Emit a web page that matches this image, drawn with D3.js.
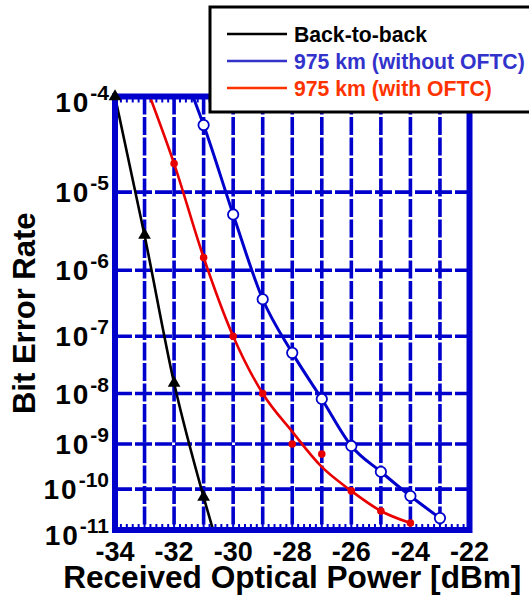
<!DOCTYPE html>
<html>
<head>
<meta charset="utf-8">
<script src="https://cdn.jsdelivr.net/npm/d3@7"></script>
<style>
  body { margin: 0; background: #fff; }
  svg { display: block; }
  text { font-family: "Liberation Sans", Arial, sans-serif; font-weight: bold; }
</style>
</head>
<body>
<svg id="chart"></svg>
<script>
// Axis ticks
var powerTicks = [-34, -32, -30, -28, -26, -24, -22];
var berTicks = [1e-4, 1e-5, 1e-6, 1e-7, 1e-8, 1e-9, 1e-10, 1e-11];
var berExponents = ["-4", "-5", "-6", "-7", "-8", "-9", "-10", "-11"];

// Back-to-back (measured points + drawn fit)
var b2bPower = [-34, -33, -32, -31];
var b2bBer = [1e-4, 2.96e-6, 1.56e-8, 6.5e-11];
var b2bFitPower = [-34, -33, -32, -31, -30.68];
var b2bFitBer = [1e-4, 2.96e-6, 1.56e-8, 6.5e-11, 1e-11];

// 975 km without OFTC
var noOftcPower = [-31, -30, -29, -28, -27, -26, -25, -24, -23];
var noOftcBer = [5.3e-5, 5.4e-6, 3.8e-7, 5.3e-8, 7.9e-9, 9.1e-10, 2.5e-10, 6.9e-11, 2.0e-11];
var noOftcFitPower = [-31.36, -31, -30, -29, -28, -27, -26, -25, -24, -23];
var noOftcFitBer = [1e-4, 5.3e-5, 5.4e-6, 3.8e-7, 5.3e-8, 7.9e-9, 9.1e-10, 2.5e-10, 6.9e-11, 2.0e-11];

// 975 km with OFTC
var oftcPower = [-32, -31, -30, -29, -28, -27, -26, -25, -24];
var oftcBer = [2.1e-5, 1.5e-6, 1.0e-7, 1.0e-8, 1.0e-9, 6.1e-10, 9.1e-11, 3.0e-11, 1.5e-11];
var oftcFitPower = [-32.82, -32, -31, -30, -29, -28, -27, -26, -25, -24];
var oftcFitBer = [1e-4, 2.1e-5, 1.5e-6, 1.0e-7, 1.0e-8, 1.8e-9, 3.2e-10, 9.1e-11, 3.0e-11, 1.5e-11];

var legendLabels = ["Back-to-back", "975 km (without OFTC)", "975 km (with OFTC)"];
var legendColors = ["#000000", "#3333cc", "#ff3300"];

var svgWidth = 529, svgHeight = 597;
var plotLeft = 115, plotRight = 469.5, plotTop = 96.5, plotBottom = 530;
var gridBlue = "#0000cc";

var svg = d3.select("#chart")
  .attr("width", svgWidth)
  .attr("height", svgHeight);

// BER axis is a Q-type scale: linear in log10(-log10(BER))
function q(b) { return Math.log10(-Math.log10(b)); }
var xScale = d3.scaleLinear().domain([-34, -22]).range([plotLeft, plotRight]);
var qScale = d3.scaleLinear().domain([q(1e-4), q(1e-11)]).range([plotTop, plotBottom]);
function yScale(b) { return qScale(q(b)); }

function zip(xs, ys) { return xs.map((v, i) => [v, ys[i]]); }

// Grid
var grid = svg.append("g");
grid.selectAll(".vgrid")
  .data(xScale.ticks(12).filter(d => d > -34 && d < -22))
  .enter().append("line")
  .attr("x1", d => xScale(d)).attr("x2", d => xScale(d))
  .attr("y1", plotTop).attr("y2", plotBottom)
  .attr("stroke", gridBlue).attr("stroke-width", 3.6)
  .attr("stroke-dasharray", "18,2.5");
grid.selectAll(".hgrid")
  .data(berTicks.slice(1, -1))
  .enter().append("line")
  .attr("x1", plotLeft).attr("x2", plotRight)
  .attr("y1", d => yScale(d)).attr("y2", d => yScale(d))
  .attr("stroke", gridBlue).attr("stroke-width", 3.6)
  .attr("stroke-dasharray", "17,3");

// minor ticks on top and bottom frame
var minor = xScale.ticks(60);
grid.selectAll(".mb").data(minor).enter().append("line")
  .attr("x1", d => xScale(d)).attr("x2", d => xScale(d))
  .attr("y1", plotBottom).attr("y2", plotBottom - 6)
  .attr("stroke", gridBlue).attr("stroke-width", 2);
grid.selectAll(".mt").data(minor).enter().append("line")
  .attr("x1", d => xScale(d)).attr("x2", d => xScale(d))
  .attr("y1", plotTop).attr("y2", plotTop + 6)
  .attr("stroke", gridBlue).attr("stroke-width", 2);

// Curves
var line = d3.line()
  .x(d => xScale(d[0]))
  .y(d => yScale(d[1]))
  .curve(d3.curveMonotoneX);

svg.append("path").datum(zip(b2bFitPower, b2bFitBer))
  .attr("d", line).attr("fill", "none")
  .attr("stroke", "#000").attr("stroke-width", 2.6);
svg.append("path").datum(zip(noOftcFitPower, noOftcFitBer))
  .attr("d", line).attr("fill", "none")
  .attr("stroke", "#0000cc").attr("stroke-width", 3);
svg.append("path").datum(zip(oftcFitPower, oftcFitBer))
  .attr("d", line).attr("fill", "none")
  .attr("stroke", "#e80000").attr("stroke-width", 2.6);

// Frame
svg.append("rect")
  .attr("x", plotLeft).attr("y", plotTop)
  .attr("width", plotRight - plotLeft).attr("height", plotBottom - plotTop)
  .attr("fill", "none").attr("stroke", gridBlue).attr("stroke-width", 6);

// Markers
svg.selectAll(".tri").data(zip(b2bPower, b2bBer)).enter().append("path")
  .attr("d", d3.symbol(d3.symbolTriangle).size(70))
  .attr("transform", d => `translate(${xScale(d[0])},${yScale(d[1])})`)
  .attr("fill", "#000");
svg.selectAll(".open").data(zip(noOftcPower, noOftcBer)).enter().append("circle")
  .attr("cx", d => xScale(d[0])).attr("cy", d => yScale(d[1]))
  .attr("r", 5.2).attr("fill", "#fff")
  .attr("stroke", "#0000cc").attr("stroke-width", 1.8);
svg.selectAll(".dot").data(zip(oftcPower, oftcBer)).enter().append("circle")
  .attr("cx", d => xScale(d[0])).attr("cy", d => yScale(d[1]))
  .attr("r", 3.8).attr("fill", "#e80000");

// X tick labels
svg.selectAll(".xlab").data(powerTicks).enter().append("text")
  .attr("x", d => xScale(d)).attr("y", 561)
  .attr("text-anchor", "middle")
  .attr("font-size", 27)
  .text(d => d);

// Y tick labels: 10 with superscript exponent
var ylab = svg.selectAll(".ylab").data(berTicks).enter().append("text")
  .attr("x", 109)
  .attr("y", (d, i) => yScale(d) + 10 + (i == 0 ? 5.5 : 0) + (i == berTicks.length - 1 ? 5 : 0))
  .attr("text-anchor", "end")
  .attr("font-size", 28);
ylab.append("tspan").attr("letter-spacing", 2).text("10");
ylab.append("tspan")
  .attr("font-size", 21).attr("dy", -12)
  .text((d, i) => berExponents[i]);

// Axis titles
svg.append("text")
  .attr("x", (plotLeft + plotRight) / 2).attr("y", 588)
  .attr("text-anchor", "middle")
  .attr("font-size", 31.6)
  .text("Received Optical Power [dBm]");
svg.append("text")
  .attr("transform", `translate(35, ${(plotTop + plotBottom) / 2}) rotate(-90)`)
  .attr("text-anchor", "middle")
  .attr("font-size", 31)
  .text("Bit Error Rate");

// Legend
var legend = svg.append("g");
legend.append("rect")
  .attr("x", 210).attr("y", 7)
  .attr("width", 330).attr("height", 105)
  .attr("fill", "#fff").attr("stroke", "#000").attr("stroke-width", 3);
var rows = legend.selectAll(".row").data(legendLabels).enter().append("g")
  .attr("transform", (d, i) => `translate(0, ${34 + i * 27})`);
rows.append("line")
  .attr("x1", 227).attr("x2", 287)
  .attr("stroke", (d, i) => legendColors[i]).attr("stroke-width", 2.6);
rows.append("text")
  .attr("x", 294).attr("y", 8)
  .attr("font-size", 21.2)
  .attr("fill", (d, i) => legendColors[i])
  .text(d => d);
</script>
</body>
</html>
